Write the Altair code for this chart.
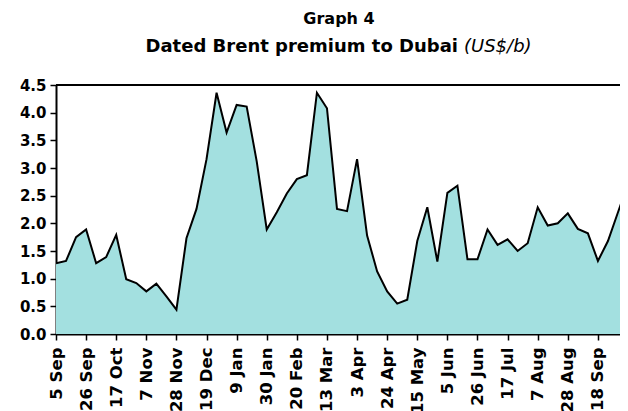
import altair as alt
import pandas as pd

# ---- data ----
weeks = list(range(58))
premium = [1.28, 1.32, 1.75, 1.89, 1.28, 1.39, 1.79, 0.99, 0.92, 0.77,
           0.91, 0.68, 0.44, 1.73, 2.26, 3.16, 4.36, 3.64, 4.14, 4.11,
           3.12, 1.89, 2.20, 2.54, 2.80, 2.87, 4.36, 4.08, 2.26, 2.22,
           3.16, 1.78, 1.13, 0.77, 0.55, 0.62, 1.68, 2.29, 1.31, 2.55,
           2.68, 1.35, 1.35, 1.89, 1.61, 1.71, 1.50, 1.64, 2.29, 1.96,
           2.00, 2.18, 1.90, 1.82, 1.32, 1.68, 2.20, 2.72]
tick_labels = ["5 Sep", "26 Sep", "17 Oct", "7 Nov", "28 Nov", "19 Dec",
               "9 Jan", "30 Jan", "20 Feb", "13 Mar", "3 Apr", "24 Apr",
               "15 May", "5 Jun", "26 Jun", "17 Jul", "7 Aug", "28 Aug",
               "18 Sep", "9 Oct"]
y_ticks = [0.0, 0.5, 1.0, 1.5, 2.0, 2.5, 3.0, 3.5, 4.0, 4.5]
title_line1 = "Graph 4"
title_line2 = "Dated Brent premium to Dubai"
title_unit = "(US$/b)"

FONT = "DejaVu Sans"
W, H = 564, 249

df = pd.DataFrame({"week": weeks, "premium": premium})
label_expr = "[" + ",".join("'%s'" % s for s in tick_labels) + "][round(datum.value/3)]"
x_ticks = [3 * i for i in range(len(tick_labels))]

area = alt.Chart(df).mark_area(
    color="#A3E0E0",
    opacity=1,
    fillOpacity=1,
    line={"color": "black", "strokeWidth": 2},
    clip=True,
).encode(
    x=alt.X("week:Q",
            scale=alt.Scale(domain=[0, 56.2], nice=False, zero=False),
            axis=alt.Axis(values=x_ticks, labelExpr=label_expr, labelAngle=270,
                          labelAlign="right", labelBaseline="middle",
                          labelFont=FONT, labelFontWeight="bold", labelFontSize=16.5,
                          labelColor="black", labelPadding=7, labelOverlap=False,
                          labelFlush=False, labelBound=False,
                          tickColor="black", tickSize=6, tickWidth=1.5,
                          domainColor="black", domainWidth=2, grid=False, title=None)),
    y=alt.Y("premium:Q",
            scale=alt.Scale(domain=[0, 4.5], nice=False),
            axis=alt.Axis(values=y_ticks, format=".1f",
                          labelFont=FONT, labelFontWeight="bold", labelFontSize=15,
                          labelColor="black", labelPadding=4,
                          tickColor="black", tickSize=6, tickWidth=1.5,
                          domainColor="black", domainWidth=2, grid=False, title=None)),
)

top_border = alt.Chart(pd.DataFrame({"a": [0]})).mark_rule(
    color="black", strokeWidth=2
).encode(x=alt.value(0), x2=alt.value(W + 10), y=alt.value(0))

t1 = alt.Chart(pd.DataFrame({"t": [title_line1]})).mark_text(
    font=FONT, fontWeight="bold", fontSize=16, align="center", baseline="alphabetic",
    color="black"
).encode(x=alt.value(283), y=alt.value(-61), text="t:N")

t2 = alt.Chart(pd.DataFrame({"t": [title_line2]})).mark_text(
    font=FONT, fontWeight="bold", fontSize=18, align="right", baseline="alphabetic",
    color="black"
).encode(x=alt.value(402), y=alt.value(-33), text="t:N")

t3 = alt.Chart(pd.DataFrame({"t": [title_unit]})).mark_text(
    font=FONT, fontStyle="italic", fontWeight="normal", fontSize=18, align="left",
    baseline="alphabetic", color="black"
).encode(x=alt.value(408), y=alt.value(-33), text="t:N")

chart = alt.layer(area, top_border, t1, t2, t3).properties(
    width=W, height=H,
    autosize=alt.AutoSizeParams(type="none"),
    padding={"left": 48, "top": 77, "right": 0, "bottom": 77},
    background="white",
).configure_view(stroke=None)

chart.save("out.html", embed_options={"renderer": "svg", "actions": False})
